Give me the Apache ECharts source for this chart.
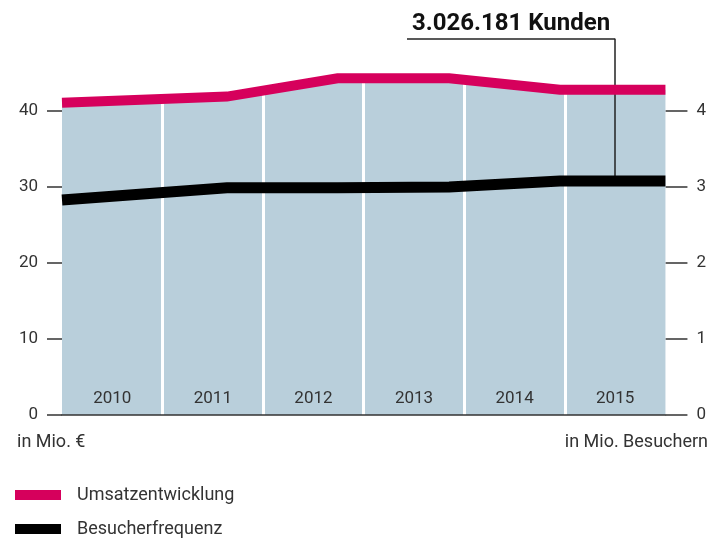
<!DOCTYPE html>
<html>
<head>
<meta charset="utf-8">
<script src="https://cdn.jsdelivr.net/npm/echarts@6/dist/echarts.min.js"></script>
<style>
  html, body { margin: 0; padding: 0; background: #fff; }
  #chart { width: 709px; height: 540px; }
</style>
</head>
<body>
<div id="chart"></div>
<script>
// year bands, one per category
const years = ['2010', '2011', '2012', '2013', '2014', '2015']
// knot positions of both lines, in band units (0 = start of 2010, 6 = end of 2015)
const knotX = [0, 1.64, 2.74, 3.85, 4.95, 6]
// Umsatz in Mio. € (left axis)
const umsatz = [41.1, 41.9, 44.3, 44.3, 42.8, 42.8]
// Besucher in Mio. (right axis)
const besucher = [2.83, 2.99, 2.99, 3.0, 3.08, 3.08]
const leftTicks = [0, 10, 20, 30, 40]
const rightTicks = [0, 1, 2, 3, 4]

// callout for 2015
const calloutText = '3.026.181 Kunden'
const calloutX = 5.5
const calloutFromX = 3.43
const calloutTop = 4.95

const FONT = 'Roboto'
const pink = '#d6005c'
const blue = '#b9cfdb'
const ink = '#333'

const chart = echarts.init(document.getElementById('chart'))

const pair = (xs, ys) => xs.map((x, i) => [x, ys[i]])

const option = {
  animation: false,
  textStyle: { fontFamily: FONT },
  // the axes run up to 50 / 5 so the callout and dividers fit, only 0..40 is labelled
  grid: { left: 62, right: 43, top: 35, bottom: 125 },
  legend: {
    data: ['Umsatzentwicklung', 'Besucherfrequenz'],
    orient: 'vertical',
    left: 15,
    top: 486,
    padding: 0,
    icon: 'rect',
    itemWidth: 46,
    itemHeight: 10,
    itemGap: 16,
    textStyle: {
      fontSize: 18, lineHeight: 18, color: ink, padding: [0, 0, 0, 11],
      fontFamily: FONT
    }
  },
  xAxis: [
    { type: 'value', min: 0, max: years.length, show: false },
    {
      type: 'category',
      data: years,
      boundaryGap: true,
      position: 'bottom',
      axisLine: { lineStyle: { color: ink, width: 1.5 } },
      axisTick: { show: false },
      axisLabel: { inside: true, margin: 8, fontSize: 17, color: ink },
      z: 10
    }
  ],
  yAxis: [
    {
      type: 'value', min: 0, max: 50, interval: 10,
      splitLine: { show: false },
      axisLine: { show: false },
      axisTick: { show: true, length: 15, customValues: leftTicks, lineStyle: { color: ink, width: 1.5 } },
      axisLabel: { margin: 24, fontSize: 17, color: ink, customValues: leftTicks }
    },
    {
      type: 'value', min: 0, max: 5, interval: 1,
      position: 'right',
      splitLine: { show: false },
      axisLine: { show: false },
      axisTick: { show: true, length: 22, customValues: rightTicks, lineStyle: { color: ink, width: 1.5 } },
      axisLabel: { margin: 31, fontSize: 17, color: ink, customValues: rightTicks }
    }
  ],
  graphic: [
    { type: 'text', left: 17, top: 433, style: { text: 'in Mio. €', font: '18px ' + FONT, fill: ink } },
    { type: 'text', right: 1, top: 433, style: { text: 'in Mio. Besuchern', font: '18px ' + FONT, fill: ink } }
  ],
  series: [
    {
      name: 'Fläche',
      type: 'line',
      data: pair(knotX, umsatz),
      symbol: 'none',
      lineStyle: { width: 0 },
      areaStyle: { color: blue, opacity: 1 },
      z: 1
    },
    {
      name: 'Trenner',
      type: 'line',
      data: [],
      z: 2,
      markLine: {
        silent: true,
        symbol: 'none',
        z: 2,
        label: { show: false },
        lineStyle: { color: '#fff', width: 3, type: 'solid' },
        data: years.slice(1).map((_, i) => [{ coord: [i + 1, 0] }, { coord: [i + 1, 47] }])
      }
    },
    {
      name: 'Umsatzentwicklung',
      type: 'line',
      data: pair(knotX, umsatz),
      symbol: 'none',
      itemStyle: { color: pink },
      lineStyle: { color: pink, width: 10, cap: 'butt', join: 'miter' },
      z: 3
    },
    {
      name: 'Besucherfrequenz',
      type: 'line',
      yAxisIndex: 1,
      data: pair(knotX, besucher),
      symbol: 'none',
      itemStyle: { color: '#000' },
      lineStyle: { color: '#000', width: 11, cap: 'butt', join: 'miter' },
      z: 4,
      markLine: {
        silent: true,
        symbol: 'none',
        z: 3,
        lineStyle: { color: '#222', width: 1.5, type: 'solid' },
        label: { show: false },
        data: [
          [{ coord: [calloutX, besucher[besucher.length - 1]] }, { coord: [calloutX, calloutTop] }],
          [
            {
              coord: [calloutFromX, calloutTop],
              label: {
                show: true, position: 'insideMiddleTop', distance: 3,
                formatter: calloutText, fontSize: 24, fontWeight: 'bold',
                color: '#111', fontFamily: FONT
              }
            },
            { coord: [calloutX, calloutTop] }
          ]
        ]
      }
    }
  ]
}

chart.setOption(option)
</script>
</body>
</html>
